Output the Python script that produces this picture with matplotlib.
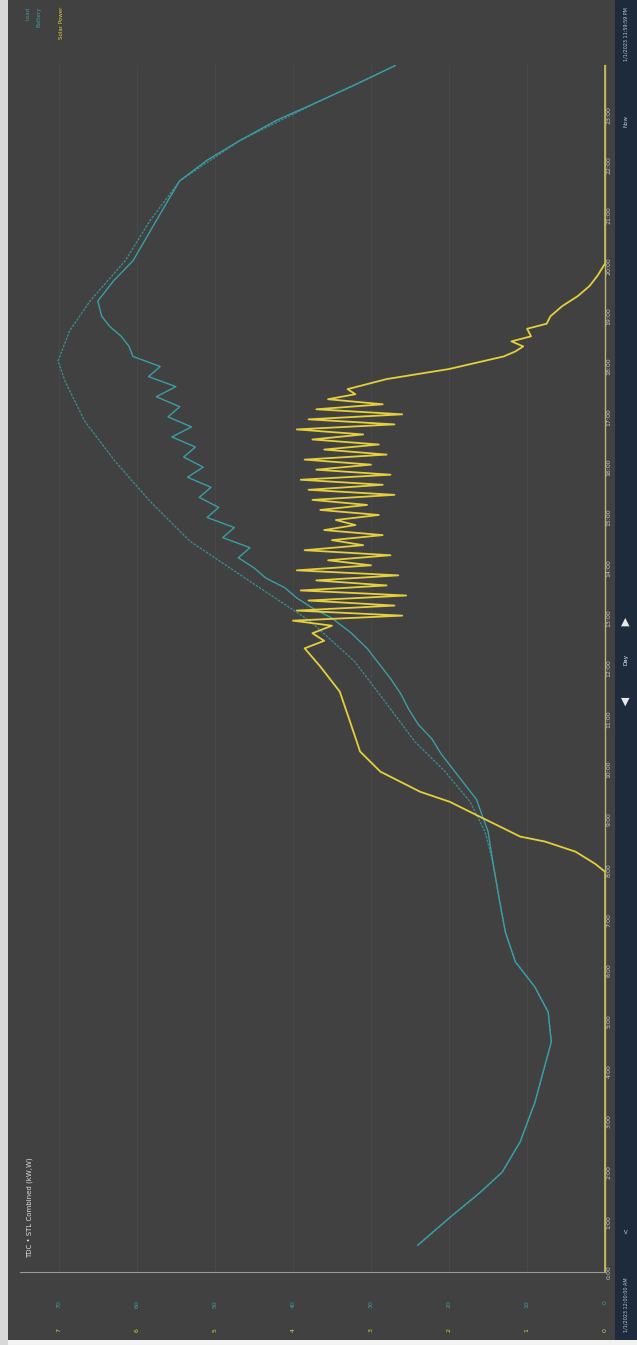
import matplotlib.pyplot as plt
from matplotlib.patches import Rectangle

# time in hours, values in yellow-axis units (kW)
load_t = [0.54, 1.09, 1.59, 1.99, 2.59, 3.38, 4.18, 4.58, 5.17, 5.67, 6.17, 6.77, 7.36, 8.16, 8.76,
          9.35, 9.95, 10.55, 11.34, 12.14, 12.94, 13.73, 14.53, 15.32, 16.12, 16.92, 17.71, 18.11,
          18.71, 19.30, 20.10, 20.90, 21.69, 22.49, 23.28, 23.98]
load_v = [2.40, 1.99, 1.60, 1.32, 1.09, 0.90, 0.76, 0.69, 0.73, 0.90, 1.15, 1.28, 1.35, 1.44, 1.54,
          1.73, 2.05, 2.44, 2.82, 3.21, 3.78, 4.55, 5.32, 5.83, 6.28, 6.67, 6.92, 7.01,
          6.86, 6.60, 6.15, 5.83, 5.45, 4.68, 3.65, 2.69]

batt_t = [0.54, 1.09, 1.59, 1.99, 2.59, 3.38, 4.18, 4.58, 5.17, 5.67, 6.17, 6.77, 7.36, 8.16, 8.76,
          9.10, 9.40, 9.70, 10.00, 10.30, 10.60, 10.90, 11.20, 11.50, 11.80, 12.10, 12.40, 12.70,
          13.00, 13.20, 13.40, 13.60, 13.80, 14.00, 14.20, 14.40, 14.60, 14.80, 15.00, 15.20,
          15.40, 15.60, 15.80, 16.00, 16.20, 16.40, 16.60, 16.80, 17.00, 17.20, 17.40, 17.60,
          17.80, 18.00, 18.20, 18.40, 18.60, 18.80, 19.00, 19.30, 19.70, 20.10, 20.50, 20.90,
          21.30, 21.69, 22.10, 22.49, 22.90, 23.28, 23.60, 23.98]
batt_v = [2.40, 1.99, 1.60, 1.32, 1.09, 0.90, 0.76, 0.69, 0.73, 0.90, 1.15, 1.28, 1.35, 1.44, 1.50,
          1.58, 1.65, 1.80, 1.95, 2.10, 2.22, 2.40, 2.52, 2.62, 2.75, 2.90, 3.05, 3.25,
          3.50, 3.75, 3.95, 4.10, 4.35, 4.50, 4.70, 4.55, 4.90, 4.75, 5.10, 4.95,
          5.20, 5.05, 5.35, 5.15, 5.40, 5.25, 5.55, 5.30, 5.60, 5.45, 5.75, 5.50,
          5.85, 5.70, 6.05, 6.10, 6.20, 6.35, 6.45, 6.50, 6.30, 6.05, 5.90, 5.75,
          5.60, 5.45, 5.10, 4.68, 4.20, 3.65, 3.20, 2.69]

solar_t = [0.00, 7.96, 8.12, 8.36, 8.56, 8.66, 8.86, 9.05, 9.35, 9.55, 9.95, 10.35, 10.95, 11.54,
           12.04, 12.40, 12.55, 12.70, 12.85, 12.95, 13.05, 13.15, 13.25, 13.35, 13.45, 13.55,
           13.65, 13.75, 13.85, 13.95, 14.05, 14.15, 14.25, 14.35, 14.45, 14.55, 14.65, 14.75,
           14.85, 14.95, 15.05, 15.15, 15.25, 15.35, 15.45, 15.55, 15.65, 15.75, 15.85, 15.95,
           16.05, 16.15, 16.25, 16.35, 16.45, 16.55, 16.65, 16.75, 16.85, 16.95, 17.05, 17.15,
           17.25, 17.35, 17.45, 17.55, 17.75, 17.95, 18.20, 18.30, 18.40, 18.50, 18.60, 18.75,
           18.85, 19.00, 19.20, 19.40, 19.60, 19.80, 20.05, 24.00]
solar_v = [0.00, 0.00, 0.13, 0.38, 0.77, 1.09, 1.35, 1.60, 1.99, 2.37, 2.88, 3.14, 3.27, 3.40,
           3.65, 3.85, 3.60, 3.75, 3.50, 4.00, 2.60, 3.95, 2.70, 3.80, 2.55, 3.90,
           2.80, 3.70, 2.65, 3.95, 3.00, 3.55, 2.75, 3.85, 3.10, 3.50, 2.85, 3.60,
           3.20, 3.45, 2.90, 3.65, 3.05, 3.75, 2.70, 3.80, 2.85, 3.90, 2.75, 3.70,
           3.00, 3.85, 2.80, 3.60, 2.90, 3.75, 3.10, 3.95, 2.70, 3.80, 2.60, 3.70,
           2.85, 3.55, 3.20, 3.30, 2.80, 2.00, 1.30, 1.15, 1.05, 1.20, 0.95, 1.00,
           0.75, 0.70, 0.55, 0.35, 0.20, 0.10, 0.00, 0.00]

hour_labels = [f'{h}:00' for h in range(24)]
kw_ticks = [0, 1, 2, 3, 4, 5, 6, 7]
teal_ticks = ['0', '10', '20', '30', '40', '50', '60', '70']

bg = '#414141'
teal = '#3a9ea6'
yellow = '#e6cf3c'

fig = plt.figure(figsize=(6.37, 13.45), dpi=100, facecolor=bg)
ax = fig.add_axes([0.031, 0.054, 0.919, 0.898], facecolor=bg)

ax.plot(load_v, load_t, color=teal, lw=0.9, ls=(0, (2, 1)), alpha=0.85)
ax.plot(batt_v, batt_t, color=teal, lw=1.0)
ax.plot(solar_v, solar_t, color=yellow, lw=1.3)

ax.set_xlim(7.5, 0)
ax.set_ylim(0, 24)
for k in kw_ticks:
    ax.axvline(k, color='#4a4a4a', lw=0.6, zorder=0)

ax.yaxis.tick_right()
ax.set_yticks(range(24))
ax.set_yticklabels(hour_labels, rotation=90, va='center', fontsize=4.5, color='#c8c8c8')
ax.tick_params(axis='y', length=0, pad=1)
ax.set_xticks([])
for k, lab in zip(kw_ticks, teal_ticks):
    ax.text(k, -0.55, lab, rotation=90, color=teal, fontsize=4.5, ha='center', va='top')
    ax.text(k, -1.1, str(k), rotation=90, color=yellow, fontsize=4.5, ha='center', va='top')

for s in ['top', 'left']:
    ax.spines[s].set_visible(False)
ax.spines['right'].set_color('#b8b870')
ax.spines['bottom'].set_color('#9a9a9a')
ax.spines['right'].set_linewidth(1.0)
ax.spines['bottom'].set_linewidth(0.8)

ax.text(0.012, 0.012, 'TDC • STL Combined (kW,W)', transform=ax.transAxes, rotation=90,
        color='#e0e0e0', fontsize=5, ha='left', va='bottom')

# legend, top-left
fig.text(0.040, 0.995, 'Load', rotation=90, color=teal, fontsize=4, va='top')
fig.text(0.058, 0.995, 'Battery', rotation=90, color=teal, fontsize=4, va='top')
fig.text(0.092, 0.995, 'Solar Power', rotation=90, color=yellow, fontsize=4, va='top')

# right side navigation strip
fig.patches.append(Rectangle((0.965, 0.004), 0.035, 0.996, transform=fig.transFigure,
                             facecolor='#1d2b3c', edgecolor='none'))
fig.text(0.982, 0.01, '1/1/2023 12:00:00 AM', rotation=90, color='#c0c8d0', fontsize=3.5,
         ha='center', va='bottom')
fig.text(0.982, 0.085, '<', rotation=90, color='#c0c8d0', fontsize=5, ha='center', va='center')
fig.text(0.982, 0.51, 'Day', rotation=90, color='#ffffff', fontsize=4, ha='center', va='center')
fig.text(0.982, 0.538, '\u25b2', color='#e8e8e8', fontsize=8, ha='center', va='center')
fig.text(0.982, 0.478, '\u25bc', color='#e8e8e8', fontsize=8, ha='center', va='center')
fig.text(0.982, 0.91, 'Now', rotation=90, color='#c0c8d0', fontsize=4, ha='center', va='center')
fig.text(0.982, 0.995, '1/1/2023 11:59:59 PM', rotation=90, color='#c0c8d0', fontsize=3.5,
         ha='center', va='top')

# white scan borders
fig.patches.append(Rectangle((0, 0), 1, 0.004, transform=fig.transFigure,
                             facecolor='#f2f2f2', edgecolor='none'))
fig.patches.append(Rectangle((0, 0), 0.012, 1, transform=fig.transFigure,
                             facecolor='#d8d8d8', edgecolor='none'))

fig.savefig('out.png', dpi=100, facecolor=bg)
